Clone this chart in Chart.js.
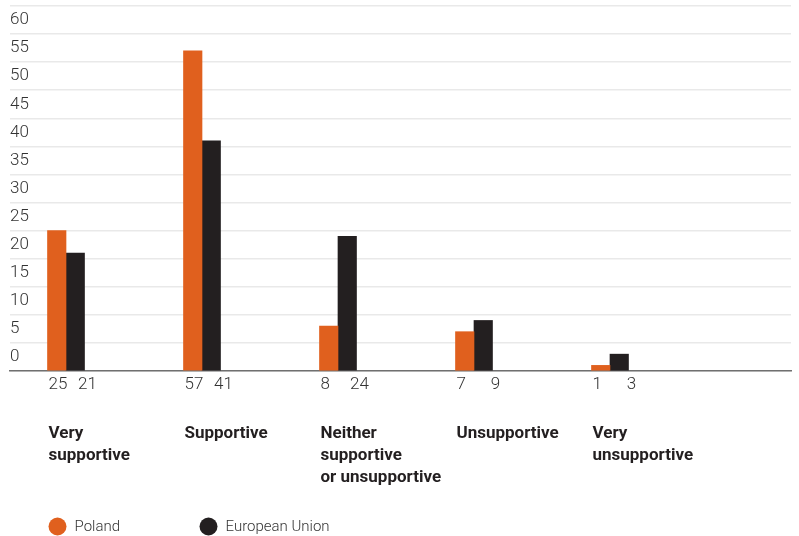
<!DOCTYPE html>
<html>
<head>
<meta charset="utf-8">
<script src="https://cdn.jsdelivr.net/npm/chart.js@4/dist/chart.umd.min.js"></script>
<style>
  html, body { margin: 0; padding: 0; background: #fff; }
  #wrap { width: 799px; height: 536px; position: relative; }
</style>
</head>
<body>
<div id="wrap"><canvas id="myChart"></canvas></div>
<script>
// categories (one entry per line of the label)
const categories = [
  ['Very', 'supportive'],
  ['Supportive'],
  ['Neither', 'supportive', 'or unsupportive'],
  ['Unsupportive'],
  ['Very', 'unsupportive']
];
const seriesNames = ['Poland', 'European Union'];
const poland = [25, 57, 8, 7, 1];
const eu = [21, 41, 24, 9, 3];
const yTicks = [0, 5, 10, 15, 20, 25, 30, 35, 40, 45, 50, 55, 60];

const ORANGE = '#e0601e';
const BLACK = '#231f20';
const LIGHT_FONT = 'Roboto';

function points(values) {
  return values.map((v, i) => ({x: i, y: v}));
}

const labelsPlugin = {
  id: 'labelsPlugin',
  afterDraw(chart) {
    const ctx = chart.ctx;
    const y0 = chart.scales.y.getPixelForValue(0);
    const m0 = chart.getDatasetMeta(0);
    const m1 = chart.getDatasetMeta(1);
    ctx.save();
    categories.forEach((lines, i) => {
      const b0 = m0.data[i];
      const b1 = m1.data[i];
      const left = b0.x - b0.width / 2;
      // values under the bars
      ctx.font = `300 17px ${LIGHT_FONT}`;
      ctx.fillStyle = '#333';
      ctx.textBaseline = 'middle';
      ctx.textAlign = 'left';
      ctx.fillText(String(poland[i]), left + 1, y0 + 14);
      ctx.textAlign = 'center';
      ctx.fillText(String(eu[i]), b1.x + b1.width / 2 + 3, y0 + 14);
      // category names
      ctx.font = 'bold 17px Roboto';
      ctx.fillStyle = BLACK;
      ctx.textAlign = 'left';
      ctx.textBaseline = 'alphabetic';
      lines.forEach((line, j) => {
        ctx.fillText(line, left + 1, y0 + 67 + j * 22);
      });
    });
    // legend
    const colors = [ORANGE, BLACK];
    seriesNames.forEach((name, k) => {
      const cx = 57.5 + k * 151;
      ctx.beginPath();
      ctx.arc(cx, 526.5, 9, 0, Math.PI * 2);
      ctx.fillStyle = colors[k];
      ctx.fill();
      ctx.font = `300 15px ${LIGHT_FONT}`;
      ctx.fillStyle = '#333';
      ctx.textAlign = 'left';
      ctx.textBaseline = 'middle';
      ctx.fillText(name, cx + 17, 527);
    });
    ctx.restore();
  }
};

const ctx = document.getElementById('myChart').getContext('2d');
const myChart = new Chart(ctx, {
  type: 'bar',
  data: {
    datasets: [{
      label: seriesNames[0],
      data: points(poland),
      backgroundColor: ORANGE
    }, {
      label: seriesNames[1],
      data: points(eu),
      backgroundColor: BLACK
    }]
  },
  options: {
    responsive: true,
    maintainAspectRatio: false,
    animation: false,
    layout: {
      padding: {left: 10, right: 8, top: 6, bottom: 165}
    },
    plugins: {
      legend: {display: false},
      tooltip: {enabled: false}
    },
    datasets: {
      bar: {barThickness: 18.5}
    },
    scales: {
      x: {
        type: 'linear',
        offset: false,
        bounds: 'data',
        min: -0.4118,
        max: 5.331,
        afterBuildTicks: (scale) => {
          scale.ticks = categories.map((c, i) => ({value: i}));
        },
        grid: {display: false, drawTicks: false},
        ticks: {display: false},
        border: {display: true, color: '#707070', width: 1.5}
      },
      y: {
        min: 0,
        max: 65,
        afterBuildTicks: (scale) => {
          scale.ticks = yTicks.concat([65]).map(v => ({value: v}));
        },
        afterFit: (scale) => {
          scale.paddingTop = 0;
          scale.paddingBottom = 0;
        },
        grid: {color: '#e9e9e9', lineWidth: 1.5, drawTicks: false},
        border: {display: false},
        ticks: {
          mirror: true,
          padding: 0,
          labelOffset: -14,
          color: '#333',
          font: {family: LIGHT_FONT, size: 17, weight: '300'},
          callback: (v) => yTicks.includes(v) ? String(v) : ''
        }
      }
    }
  },
  plugins: [labelsPlugin]
});
</script>
</body>
</html>
